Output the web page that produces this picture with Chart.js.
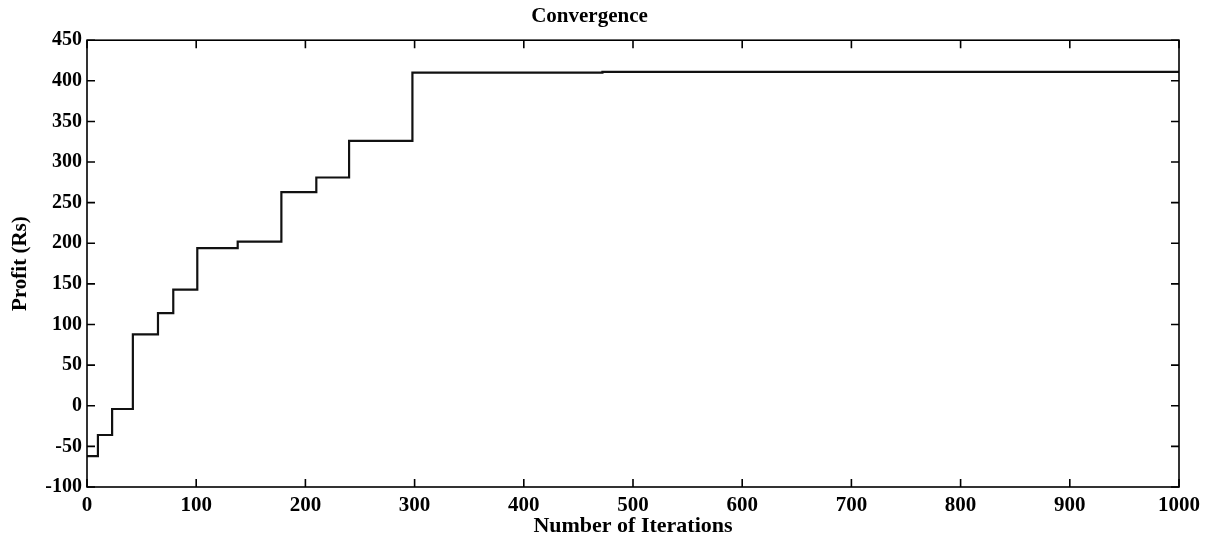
<!DOCTYPE html>
<html>
<head>
<meta charset="utf-8">
<title>Convergence</title>
<script src="https://cdn.jsdelivr.net/npm/chart.js@4"></script>
<style>
    html, body { margin: 0; padding: 0; background: #fff; }
    #wrap { width: 1208px; height: 541px; position: relative; }
</style>
</head>
<body>
<div id="wrap"><canvas id="conv-chart"></canvas></div>
<script>
// values
const iterations = [0, 10, 23, 42, 65, 79, 101, 138, 178, 210, 240, 298, 472, 1000];
const profit = [-62, -36, -4, 88, 114, 143, 194, 202, 263, 281, 326, 410, 411, 411];

const xTicks = [0, 100, 200, 300, 400, 500, 600, 700, 800, 900, 1000];
const yTicks = [-100, -50, 0, 50, 100, 150, 200, 250, 300, 350, 400, 450];

const serif = "'Liberation Serif', 'Times New Roman', serif";

// box around the plot + matlab style ticks pointing inwards
const boxPlugin = {
    id: "box",
    afterDraw: function (chart) {
        const ctx = chart.ctx;
        const a = chart.chartArea;
        const xs = chart.scales.x;
        const ys = chart.scales.y;
        const len = 8;
        ctx.save();
        ctx.strokeStyle = "#000";
        ctx.lineWidth = 1.6;
        ctx.strokeRect(a.left, a.top, a.right - a.left, a.bottom - a.top);
        ctx.beginPath();
        xTicks.forEach(function (v) {
            const px = xs.getPixelForValue(v);
            ctx.moveTo(px, a.bottom); ctx.lineTo(px, a.bottom - len);
            ctx.moveTo(px, a.top); ctx.lineTo(px, a.top + len);
        });
        yTicks.forEach(function (v) {
            const py = ys.getPixelForValue(v);
            ctx.moveTo(a.left, py); ctx.lineTo(a.left + len, py);
            ctx.moveTo(a.right, py); ctx.lineTo(a.right - len, py);
        });
        ctx.stroke();
        ctx.restore();
    }
};

new Chart(document.getElementById("conv-chart"), {
    type: "line",
    data: {
        datasets: [{
            data: iterations.map(function (x, i) { return { x: x, y: profit[i] }; }),
            borderColor: "#111",
            borderWidth: 2.2,
            pointRadius: 0,
            stepped: "before",
            fill: false
        }]
    },
    options: {
        responsive: true,
        maintainAspectRatio: false,
        animation: false,
        layout: { padding: { left: 0, right: 29, top: 0, bottom: 0 } },
        plugins: {
            legend: { display: false },
            tooltip: { enabled: false },
            title: {
                display: true,
                text: "Convergence",
                color: "#000",
                font: { family: serif, size: 21, weight: "bold" },
                padding: { top: 4, bottom: 11 }
            }
        },
        scales: {
            x: {
                type: "linear",
                min: 0,
                max: 1000,
                afterBuildTicks: function (s) { s.ticks = xTicks.map(function (v) { return { value: v }; }); },
                afterFit: function (s) { s.height = 54; },
                grid: { display: false, drawTicks: false },
                border: { display: false },
                ticks: {
                    color: "#000",
                    padding: 6,
                    maxRotation: 0,
                    callback: function (v) { return String(v); },
                    font: { family: serif, size: 21, weight: "bold" }
                },
                title: {
                    display: true,
                    text: "Number of Iterations",
                    color: "#000",
                    font: { family: serif, size: 22, weight: "bold" },
                    padding: { top: 0, bottom: 1 }
                }
            },
            y: {
                type: "linear",
                min: -100,
                max: 450,
                afterBuildTicks: function (s) { s.ticks = yTicks.map(function (v) { return { value: v }; }); },
                afterFit: function (s) { s.width = 87; },
                grid: { display: false, drawTicks: false },
                border: { display: false },
                ticks: {
                    color: "#000",
                    padding: 5,
                    font: { family: serif, size: 20, weight: "bold" }
                },
                title: {
                    display: true,
                    text: "Profit (Rs)",
                    color: "#000",
                    font: { family: serif, size: 21, weight: "bold" },
                    padding: { top: 8, bottom: 0 }
                }
            }
        }
    },
    plugins: [boxPlugin]
});
</script>
</body>
</html>
